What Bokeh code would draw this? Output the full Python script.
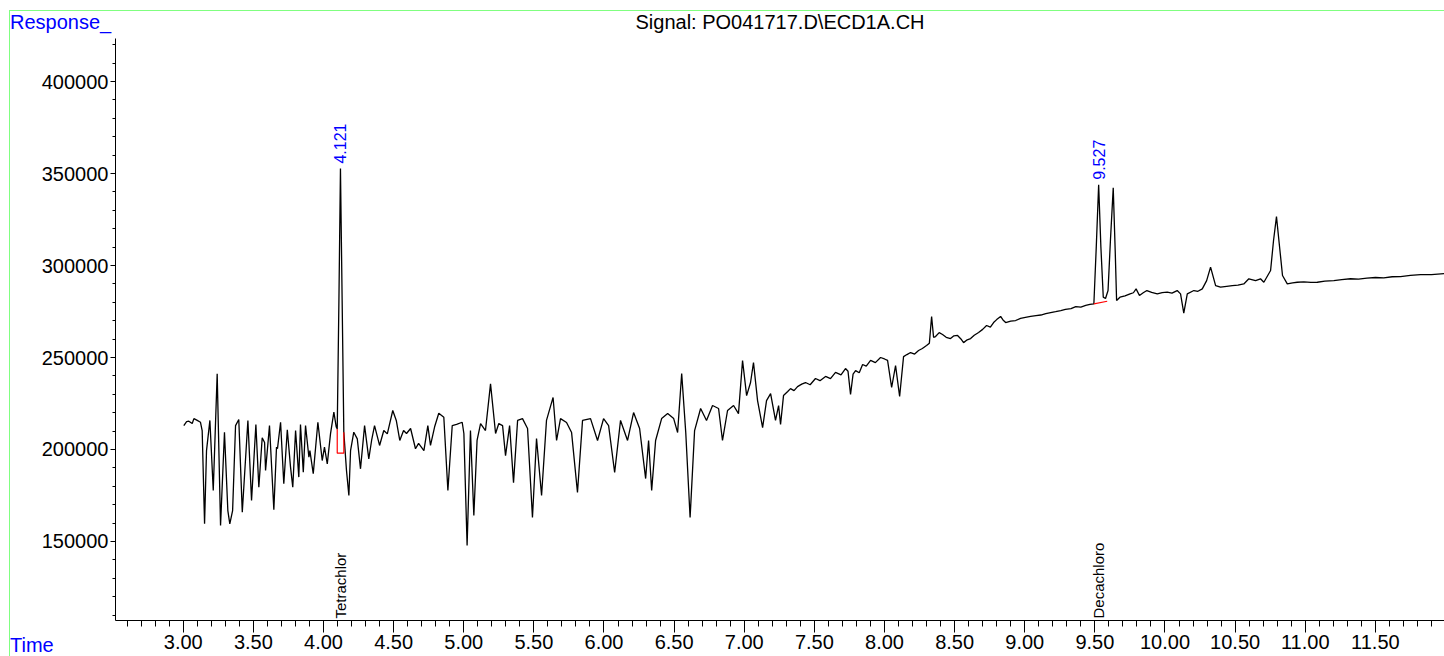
import numpy as np
from math import pi
from bokeh.plotting import figure
from bokeh.layouts import column
from bokeh.models import Range1d, SingleIntervalTicker, NumeralTickFormatter, Div
from bokeh.core.properties import value
from bokeh.embed import file_html
from bokeh.resources import INLINE

# ---- data ----
time_min = [
    3.004, 3.024, 3.040, 3.064, 3.076, 3.100, 3.123, 3.135, 3.152, 3.166,
    3.190, 3.214, 3.242, 3.266, 3.294, 3.318, 3.332, 3.352, 3.373, 3.396,
    3.421, 3.461, 3.487, 3.518, 3.539, 3.563, 3.580, 3.587, 3.615, 3.646,
    3.665, 3.672, 3.694, 3.717, 3.742, 3.765, 3.781, 3.801, 3.824, 3.836,
    3.856, 3.872, 3.896, 3.903, 3.927, 3.960, 3.991, 4.007, 4.027, 4.050,
    4.074, 4.091, 4.098, 4.110, 4.121, 4.133, 4.145, 4.164, 4.181, 4.193,
    4.216, 4.241, 4.264, 4.293, 4.323, 4.343, 4.364, 4.400, 4.430, 4.455,
    4.494, 4.519, 4.544, 4.571, 4.592, 4.621, 4.656, 4.678, 4.716, 4.744,
    4.763, 4.792, 4.822, 4.858, 4.887, 4.918, 4.949, 4.989, 5.001, 5.024,
    5.048, 5.072, 5.095, 5.120, 5.155, 5.191, 5.227, 5.250, 5.277, 5.298,
    5.327, 5.355, 5.384, 5.419, 5.455, 5.490, 5.519, 5.555, 5.590, 5.637,
    5.662, 5.690, 5.733, 5.769, 5.811, 5.847, 5.904, 5.954, 5.997, 6.033,
    6.076, 6.118, 6.168, 6.211, 6.254, 6.297, 6.318, 6.340, 6.368, 6.411,
    6.454, 6.497, 6.525, 6.554, 6.583, 6.614, 6.646, 6.689, 6.731, 6.774,
    6.817, 6.845, 6.881, 6.924, 6.959, 6.988, 7.017, 7.045, 7.066, 7.095,
    7.131, 7.159, 7.188, 7.223, 7.245, 7.259, 7.280, 7.310, 7.330, 7.355,
    7.380, 7.410, 7.437, 7.470, 7.508, 7.540, 7.580, 7.615, 7.651, 7.690,
    7.722, 7.740, 7.758, 7.776, 7.794, 7.820, 7.844, 7.870, 7.901, 7.935,
    7.972, 8.000, 8.022, 8.051, 8.079, 8.108, 8.136, 8.160, 8.186, 8.215,
    8.243, 8.270, 8.300, 8.320, 8.336, 8.350, 8.364, 8.390, 8.414, 8.440,
    8.471, 8.495, 8.521, 8.545, 8.564, 8.590, 8.614, 8.640, 8.671, 8.700,
    8.728, 8.755, 8.778, 8.800, 8.828, 8.845, 8.864, 8.900, 8.935, 8.970,
    9.005, 9.042, 9.080, 9.115, 9.150, 9.185, 9.220, 9.257, 9.290, 9.330,
    9.364, 9.400, 9.435, 9.465, 9.493, 9.510, 9.527, 9.543, 9.560, 9.576,
    9.594, 9.611, 9.631, 9.645, 9.655, 9.679, 9.715, 9.751, 9.775, 9.794,
    9.818, 9.845, 9.871, 9.905, 9.945, 9.980, 10.016, 10.050, 10.087, 10.111,
    10.134, 10.159, 10.206, 10.235, 10.266, 10.297, 10.325, 10.361, 10.396, 10.440,
    10.480, 10.520, 10.562, 10.598, 10.646, 10.681, 10.705, 10.753, 10.774, 10.795,
    10.816, 10.838, 10.872, 10.910, 10.943, 10.990, 11.040, 11.086, 11.140, 11.204,
    11.260, 11.323, 11.380, 11.440, 11.501, 11.560, 11.620, 11.680, 11.750, 11.822,
    11.900, 11.993,
]
response = [
    213000, 215200, 215400, 214100, 216800, 215800, 214800, 210300, 159600, 199400,
    215800, 177700, 241100, 158700, 209400, 166800, 159600, 166800, 213000, 216300,
    165900, 215800, 172300, 213600, 179500, 206400, 203800, 188600, 213000, 167200,
    201300, 200500, 214800, 181400, 210700, 190400, 179500, 210300, 185000, 213600,
    187700, 213000, 195800, 199400, 186800, 214800, 194000, 201300, 192200, 208500,
    220300, 212200, 211200, 281000, 352700, 281000, 209400, 188600, 175000, 199400,
    209400, 205800, 189500, 213000, 194900, 204900, 213000, 202200, 210300, 208500,
    221200, 215800, 204900, 210300, 208700, 211400, 200400, 203300, 199400, 213000,
    202200, 212200, 219700, 217500, 177700, 213000, 213600, 214800, 208700, 147800,
    210300, 164100, 204900, 214100, 210300, 235700, 208700, 214100, 213000, 196700,
    213000, 182000, 215800, 216800, 211400, 163000, 206000, 175000, 215800, 228300,
    204900, 216800, 214700, 209200, 176600, 215800, 216800, 204900, 216800, 213000,
    187500, 215800, 204900, 220100, 211400, 184200, 204900, 177700, 204900, 216800,
    219500, 216800, 209200, 241300, 209200, 163000, 210300, 222300, 215800, 223900,
    222300, 204900, 221200, 223900, 219500, 248400, 229300, 236400, 247300, 226600,
    211900, 226600, 230400, 215800, 223900, 213600, 229300, 231500, 233100, 232000,
    234200, 235500, 236400, 235200, 238600, 237400, 239700, 238500, 241900, 240600,
    244000, 242500, 229900, 241000, 242900, 241700, 246200, 245300, 248400, 247200,
    250000, 249200, 248400, 233700, 245600, 228800, 250500, 251600, 252700, 251900,
    253800, 254900, 256500, 257800, 272300, 261000, 261400, 263500, 262500, 261000,
    260300, 261800, 262000, 260100, 258100, 259600, 260300, 262100, 263600, 265300,
    267400, 266500, 269000, 270600, 272300, 270400, 269000, 269800, 270100, 271300,
    271800, 272300, 272800, 273100, 273900, 274400, 274900, 275500, 276200, 276600,
    277700, 277400, 278300, 278900, 279200, 310000, 343900, 310000, 282800, 282100,
    286400, 313600, 342200, 308200, 281000, 282800, 283500, 284600, 285200, 287300,
    283700, 285200, 286400, 285400, 284600, 285300, 285500, 285000, 286400, 284600,
    274100, 284600, 286400, 286000, 287300, 291800, 299100, 289100, 288200, 288700,
    289100, 289400, 290000, 292800, 291800, 292800, 290900, 297300, 313600, 326600,
    310900, 294600, 290000, 290600, 290900, 291100, 290800, 290900, 291500, 291800,
    292300, 292800, 292600, 293100, 293500, 293300, 293900, 294000, 294600, 295100,
    295000, 295600,
]

peak_times = [4.121, 9.527]
peak_labels = ["4.121", "9.527"]
compound_names = ["Tetrachlor", "Decachloro"]

baseline1_t = [4.098, 4.098, 4.145, 4.145]
baseline1_v = [211200, 198000, 198000, 209400]
baseline2_t = [9.493, 9.588]
baseline2_v = [279200, 280600]

x_start, x_end = 2.517, 11.993
y_start, y_end = 107050, 423400

FONT = "Liberation Sans"

t_arr = np.array(time_min)
r_arr = np.array(response)
peak_heights = [float(r_arr[np.abs(t_arr - pt) < 0.02].max()) for pt in peak_times]

p = figure(width=1444, height=656, output_backend="svg", toolbar_location=None,
           x_range=Range1d(x_start, x_end), y_range=Range1d(y_start, y_end),
           min_border_left=115, min_border_right=0, min_border_top=38,
           min_border_bottom=36)

p.title.text = "Signal: PO041717.D\\ECD1A.CH"
p.title.align = "center"
p.title.text_font = FONT
p.title.text_font_size = "20px"
p.title.text_font_style = "normal"
p.title.text_color = "black"
p.title.standoff = 11

p.xgrid.visible = False
p.ygrid.visible = False
p.outline_line_color = None

xa = p.xaxis[0]
xa.ticker = SingleIntervalTicker(interval=0.5, num_minor_ticks=5)
xa.formatter = NumeralTickFormatter(format="0.00")
xa.major_tick_out = 12
xa.major_tick_in = 0
xa.minor_tick_out = 6
xa.minor_tick_in = 0
xa.major_label_standoff = 2
xa.major_label_text_font = FONT
xa.major_label_text_font_size = "20px"
xa.major_label_text_color = "black"
xa.axis_line_color = "black"
xa.major_tick_line_color = "black"
xa.minor_tick_line_color = "black"

ya = p.yaxis[0]
ya.ticker = SingleIntervalTicker(interval=50000, num_minor_ticks=5)
ya.formatter = NumeralTickFormatter(format="0")
ya.major_tick_out = 5
ya.major_tick_in = 0
ya.minor_tick_out = 3
ya.minor_tick_in = 0
ya.major_label_standoff = 2
ya.major_label_text_font = FONT
ya.major_label_text_font_size = "20px"
ya.major_label_text_color = "black"
ya.axis_line_color = "black"
ya.major_tick_line_color = "black"
ya.minor_tick_line_color = "black"

p.line(time_min, response, line_color="black", line_width=1.3)
p.line(baseline1_t, baseline1_v, line_color="red", line_width=1.2)
p.line(baseline2_t, baseline2_v, line_color="red", line_width=1.2)

p.text(x=peak_times, y=[y_start] * len(peak_times), text=compound_names,
       angle=pi / 2, text_align="left", text_baseline="middle",
       text_font=value(FONT), text_font_size="15px", text_color="black",
       y_offset=-2)
p.text(x=peak_times, y=peak_heights, text=peak_labels,
       angle=pi / 2, text_align="left", text_baseline="middle",
       text_font=value(FONT), text_font_size="16px", text_color="blue",
       y_offset=-5)

corner_style = {"position": "absolute", "left": "10px", "color": "blue",
                "font-family": "'Liberation Sans', Arial, sans-serif",
                "font-size": "20px", "line-height": "20px", "margin": "0",
                "padding": "0", "z-index": "5", "white-space": "nowrap"}
resp_div = Div(text="Response_", styles={**corner_style, "top": "12px"})
time_div = Div(text="Time", styles={**corner_style, "top": "635px"})
frame_div = Div(text="", margin=0,
                styles={"position": "absolute", "left": "9px", "top": "10px",
                        "width": "1435px", "height": "646px", "margin": "0",
                        "padding": "0", "box-sizing": "border-box",
                        "border-left": "1px solid #80ff80",
                        "border-top": "1px solid #80ff80",
                        "pointer-events": "none", "z-index": "4"})

layout = column(p, frame_div, resp_div, time_div, spacing=0,
                styles={"position": "relative"})

open("out.html", "w").write(file_html(layout, INLINE))
